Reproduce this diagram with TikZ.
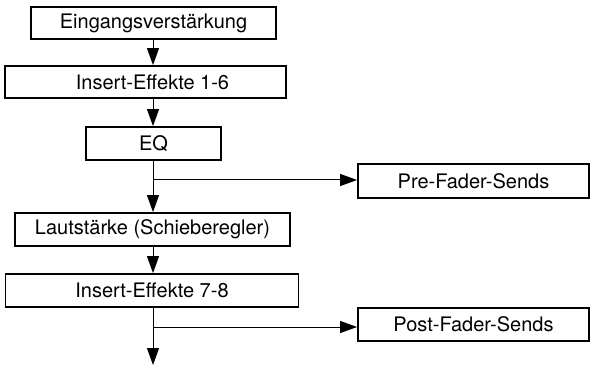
\documentclass[tikz,border=0pt]{standalone}
\usepackage{fontspec}
\setmainfont{TeX Gyre Heros}
\usetikzlibrary{arrows.meta}
\begin{document}
\begin{tikzpicture}[x=1pt,y=-1pt,
  box/.style={draw, line width=1.8pt, inner sep=0pt, font=\fontsize{20}{24}\selectfont},
  conn/.style={line width=1pt, -{Triangle[length=17pt,width=12pt]}},
  line/.style={line width=1pt}]
\useasboundingbox (0,0) rectangle (591,366);
\node[box, minimum width=245pt, minimum height=32pt] (b1) at (153.5,23) {Eingangsverstärkung};
\node[box, minimum width=281pt, minimum height=32pt] (b2) at (145.5,82) {\hspace*{14pt}Insert-Effekte 1-6};
\node[box, minimum width=135pt, minimum height=33pt] (eq) at (153.5,143.5) {EQ};
\node[box, minimum width=231pt, minimum height=34pt] (pre) at (473.5,181) {Pre-Fader-Sends};
\node[box, minimum width=275pt, minimum height=33pt] (laut) at (152.5,229.5) {Lautstärke (Schieberegler)};
\node[box, minimum width=293pt, minimum height=33pt] (ins2) at (152,290.5) {Insert-Effekte 7-8};
\node[box, minimum width=231pt, minimum height=33pt] (post) at (473.5,324.5) {Post-Fader-Sends};
\coordinate (j1) at (153,180);
\coordinate (j2) at (153,327);
\coordinate (out) at (153,365);
\draw[conn] (b1.south -| j1) -- (b2.north -| j1);
\draw[conn] (b2.south -| j1) -- (eq.north -| j1);
\draw[conn] (eq.south -| j1) -- (laut.north -| j1);
\draw[conn] (j1) -- (j1 -| pre.west);
\draw[conn] (laut.south -| j1) -- (ins2.north -| j1);
\draw[conn] (ins2.south -| j1) -- (out);
\draw[conn] (j2) -- (j2 -| post.west);
\end{tikzpicture}
\end{document}
